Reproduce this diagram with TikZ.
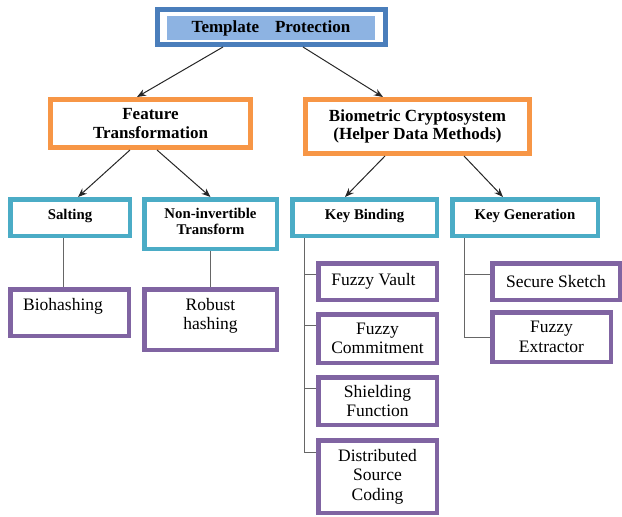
\documentclass[tikz,border=0pt]{standalone}
\usepackage{fontspec}
\setmainfont{Liberation Serif}
\usetikzlibrary{arrows.meta}
\definecolor{tpblue}{HTML}{4A7EBB}
\definecolor{tpfill}{HTML}{8DB3E2}
\definecolor{tporange}{HTML}{F79646}
\definecolor{tpcyan}{HTML}{4BACC6}
\definecolor{tppurple}{HTML}{8064A2}
\begin{document}
\begin{tikzpicture}[x=1pt,y=-1pt,
  frame/.style={draw=tpblue, line width=5pt, inner sep=0pt},
  tfill/.style={fill=tpfill, inner sep=0pt, font=\fontsize{17}{19}\selectfont\bfseries},
  obox/.style={draw=tporange, line width=5pt, fill=white, align=center, inner sep=0pt, font=\fontsize{17}{18.6}\selectfont\bfseries},
  cbox/.style={draw=tpcyan, line width=4.5pt, fill=white, align=center, inner sep=0pt, font=\fontsize{14.8}{16}\selectfont\bfseries},
  pbox/.style={draw=tppurple, line width=4.5pt, fill=white, align=center, inner sep=0pt, font=\fontsize{17.5}{19.5}\selectfont},
  arr/.style={-{Stealth[length=9pt,width=7pt]}, line width=1pt, black!85},
  conn/.style={line width=1pt, black!60},
]
\useasboundingbox (0,0) rectangle (622,517);

% level 1
\node[frame, minimum width=228pt, minimum height=35pt] (top) at (271.5,27) {};
\node[tfill, minimum width=208pt, minimum height=24pt] (topfill) at (271,28) {Template\hspace{16pt}Protection};

% level 2
\node[obox, minimum width=200pt, minimum height=48pt] (feat) at (150.5,123.5) {Feature\\Transformation};
\node[obox, minimum width=224pt, minimum height=54pt] (bio) at (417.5,126.5) {Biometric Cryptosystem\\(Helper Data Methods)};

% level 3
\node[cbox, minimum width=119.5pt, minimum height=36.5pt] (salt) at (70,217.5) {Salting\rule[-6pt]{0pt}{1pt}};
\node[cbox, minimum width=132.5pt, minimum height=49.5pt] (ni) at (210.5,224) {Non-invertible\\Transform\rule[-6pt]{0pt}{1pt}};
\node[cbox, minimum width=144.5pt, minimum height=36.5pt] (kb) at (364.5,217.5) {Key Binding\rule[-6pt]{0pt}{1pt}};
\node[cbox, minimum width=145.5pt, minimum height=36.5pt] (kg) at (525,217.5) {Key Generation\rule[-6pt]{0pt}{1pt}};

% level 4
\node[pbox, minimum width=118.5pt, minimum height=46.5pt] (bh) at (69.5,312.5) {Biohashing\hspace{13pt}\rule[-17pt]{0pt}{1pt}};
\node[pbox, minimum width=132.5pt, minimum height=60.5pt] (rh) at (210.5,319.5) {Robust\\hashing\rule[-11pt]{0pt}{1pt}};
\node[pbox, minimum width=118.5pt, minimum height=36.5pt] (fv) at (377.5,281.5) {Fuzzy Vault\hspace{8pt}};
\node[pbox, minimum width=118.5pt, minimum height=48.5pt] (fc) at (377.5,338.5) {Fuzzy\\Commitment};
\node[pbox, minimum width=118.5pt, minimum height=47.5pt] (sf) at (377.5,401) {Shielding\\Function};
\node[pbox, minimum width=118.5pt, minimum height=72.5pt] (dsc) at (377.5,476.5) {Distributed\\Source\\Coding};
\node[pbox, minimum width=127.5pt, minimum height=36.5pt] (ss) at (556,281.5) {Secure Sketch};
\node[pbox, minimum width=118.5pt, minimum height=49.5pt] (fe) at (551.5,337) {Fuzzy\\Extractor};

% arrows
\draw[arr] ([xshift=-48.5pt]top.south) -- ([xshift=-13.5pt]feat.north);
\draw[arr] ([xshift=31.5pt]top.south) -- ([xshift=-34.5pt]bio.north);
\draw[arr] ([xshift=-20.5pt]feat.south) -- ([xshift=8pt]salt.north);
\draw[arr] ([xshift=6.5pt]feat.south) -- (ni.north);
\draw[arr] ([xshift=-32.5pt]bio.south) -- ([xshift=-19.5pt]kb.north);
\draw[arr] ([xshift=46.5pt]bio.south) -- ([xshift=-22pt]kg.north);

% plain connectors
\draw[conn] ([xshift=-7pt]salt.south) -- ([xshift=-7pt]salt.south |- bh.north);
\draw[conn] (ni.south) -- (ni.south |- rh.north);

\coordinate (kbt) at ([xshift=14pt]kb.south west);
\coordinate (kgt) at ([xshift=14pt]kg.south west);
\draw[conn] (kbt) |- ([yshift=-13pt]fv.north west);
\draw[conn] (kbt) |- ([yshift=-13pt]fc.north west);
\draw[conn] (kbt) |- ([yshift=-13pt]sf.north west);
\draw[conn] (kbt) |- ([yshift=-14pt]dsc.north west);
\draw[conn] (kgt) |- ([yshift=-13pt]ss.north west);
\draw[conn] (kgt) |- (fe.west);
\end{tikzpicture}
\end{document}
